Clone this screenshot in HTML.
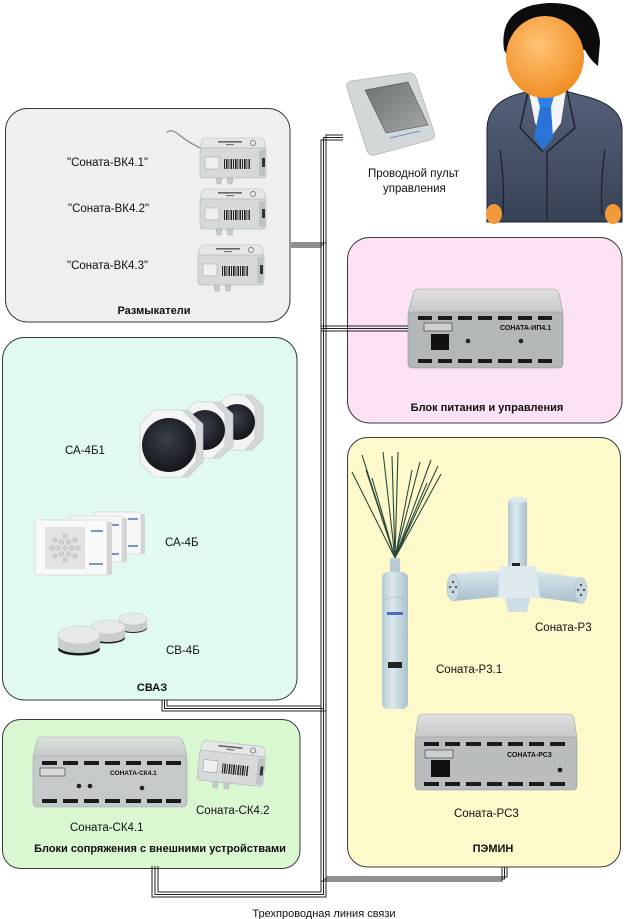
<!DOCTYPE html>
<html><head><meta charset="utf-8">
<style>
html,body{margin:0;padding:0;background:#fff;}
svg{display:block;}
text{font-family:"Liberation Sans",sans-serif;fill:#111;}
</style></head><body>
<svg width="624" height="919" viewBox="0 0 624 919" xmlns="http://www.w3.org/2000/svg">
<defs>
 <linearGradient id="topg" x1="0" y1="0" x2="0" y2="1"><stop offset="0" stop-color="#dfe1e1"/><stop offset="1" stop-color="#c6c9c9"/></linearGradient>
 <linearGradient id="suit" x1="0" y1="0" x2="0" y2="1"><stop offset="0" stop-color="#56627a"/><stop offset="1" stop-color="#384256"/></linearGradient>
 <radialGradient id="face" cx="0.42" cy="0.35" r="0.7"><stop offset="0" stop-color="#ffc476"/><stop offset="1" stop-color="#ef8a1f"/></radialGradient>
 <radialGradient id="spk" cx="0.45" cy="0.4" r="0.6"><stop offset="0" stop-color="#3a3f4a"/><stop offset="1" stop-color="#14161b"/></radialGradient>
 <linearGradient id="cyl" x1="0" y1="0" x2="1" y2="0"><stop offset="0" stop-color="#b3c9d3"/><stop offset="0.4" stop-color="#dbe9ef"/><stop offset="1" stop-color="#a9c0cb"/></linearGradient>
 <linearGradient id="cylh" x1="0" y1="0" x2="0" y2="1"><stop offset="0" stop-color="#dbe9ef"/><stop offset="1" stop-color="#a9c0cb"/></linearGradient>
 <linearGradient id="scr" x1="0" y1="0" x2="1" y2="1"><stop offset="0" stop-color="#6c7071"/><stop offset="1" stop-color="#a3a7a8"/></linearGradient>
 <g id="vk">
  <path d="M4,0 H60 Q63,0 64,3 L66,10 H0 L2,3 Q3,0 4,0Z" fill="#e6e8e8" stroke="#b5b9b9" stroke-width=".6"/>
  <rect x="0" y="10" width="66" height="30" rx="3" fill="#d6d9d9" stroke="#aeb2b2" stroke-width=".6"/>
  <rect x="59" y="12" width="6" height="26" fill="#bfc3c3"/>
  <circle cx="53" cy="5" r="2.6" fill="none" stroke="#666" stroke-width=".7"/>
  <rect x="18" y="3" width="24" height="1.6" fill="#666"/>
  <rect x="26" y="6" width="8" height="1.2" fill="#777"/>
  <rect x="5" y="19" width="14" height="12" fill="#eef0f0" stroke="#999" stroke-width=".5"/>
  <g fill="#222">
   <rect x="24" y="21" width="1" height="10"/><rect x="26" y="21" width="1.5" height="10"/><rect x="28.5" y="21" width="0.8" height="10"/>
   <rect x="30.5" y="21" width="1.5" height="10"/><rect x="33" y="21" width="1" height="10"/><rect x="35" y="21" width="1.6" height="10"/>
   <rect x="37.5" y="21" width="0.8" height="10"/><rect x="39.5" y="21" width="1.5" height="10"/><rect x="42" y="21" width="1" height="10"/>
   <rect x="44" y="21" width="1.6" height="10"/><rect x="46.5" y="21" width="0.8" height="10"/><rect x="48.5" y="21" width="1.4" height="10"/>
  </g>
  <rect x="62" y="20" width="3" height="9" fill="#333"/>
  <path d="M16,40 h6 l-1,6 h-4z M27,40 h6 l-1,6 h-4z" fill="#c8cbcb" stroke="#a5a9a9" stroke-width=".5"/>
 </g>
</defs>

<rect width="624" height="919" fill="#fff"/>

<!-- Panels -->
<rect x="5.5" y="108.5" width="284.5" height="213.5" rx="22" fill="#efefef" stroke="#3a3a3a"/>
<rect x="2.5" y="337.5" width="294.5" height="362.5" rx="22" fill="#e0f9f1" stroke="#3a3a3a"/>
<rect x="2.5" y="719.5" width="297.5" height="149" rx="18" fill="#d9f8d2" stroke="#3a3a3a"/>
<rect x="347.5" y="237.5" width="274.5" height="185.5" rx="22" fill="#fde1f5" stroke="#3a3a3a"/>
<rect x="347.5" y="437.5" width="273" height="429.5" rx="20" fill="#fdf9cb" stroke="#3a3a3a"/>

<!-- Wires -->
<g fill="none" stroke="#222" stroke-width="1">
 <path d="M343,135 H326 V897 H152 V866"/>
 <path d="M343,137.5 H323.5 V894.5 H155 V866"/>
 <path d="M343,140 H321 V892 H158 V866"/>
 <path d="M291,243 H326 M291,245 H323.5 M291,247 H321"/>
 <path d="M321,326 H408 M321,328.5 H408 M321,331 H408"/>
 <path d="M162,700 V711 H326 M164.5,700 V708.5 H323.5 M167,700 V706 H321"/>
 <path d="M326,877 H507 V867 M323.5,879 H504.5 V867 M321,881 H502 V867"/>
</g>

<!-- Person -->
<path d="M487,222 V128 Q488,104 515,95 L547,86 L580,95 Q621,104 622,128 V222 Z" fill="url(#suit)" stroke="#1e2330"/>
<ellipse cx="494" cy="214" rx="8" ry="10" fill="#f29a3a"/>
<ellipse cx="613" cy="214" rx="8" ry="10" fill="#f29a3a"/>
<path d="M529,92 L566,90 L561,123 L547,142 L535,123 Z" fill="#f3f4f6"/>
<path d="M537,96 H554 L551,107 H540 Z" fill="#2f80e6"/>
<path d="M540,107 H551 L553,138 L543,150 L534,138 Z" fill="#2a74d8"/>
<path d="M528,92 L520,128 L543,152 M567,90 L575,128 L547,152" fill="none" stroke="#1c2230" stroke-width="1.5"/>
<path d="M500,150 Q505,185 503,215 M605,150 Q600,185 602,215 M547,152 V222" fill="none" stroke="#1c2230" stroke-width="1.3"/>
<path d="M504,50 Q498,6 548,3 Q597,2 600,42 L598,66 Q590,60 585,50 L520,40 Q510,48 509,58 Z" fill="#0c0c0c"/>
<ellipse cx="545" cy="57" rx="39" ry="41" fill="url(#face)"/>

<!-- Pult -->
<path d="M347,88 Q345,83 351,81 L408,73 Q414,72 416,78 L434,132 Q436,139 430,140 L375,155 Q369,156 367,151 Z" fill="#d3d7d8" stroke="#b2b6b7" stroke-width=".8"/>
<path d="M365,90 L408,82 L428,125 L386,133 Z" fill="url(#scr)" stroke="#555" stroke-width=".6"/>
<path d="M390,138 L420,131" stroke="#6b8fc8" stroke-width="1" fill="none"/>
<text x="368" y="177" font-size="11.5">Проводной пульт</text>
<text x="383" y="192" font-size="11.5">управления</text>

<!-- Razmykateli -->
<path d="M167,133 Q170,128 178,134 Q190,144 205,150" fill="none" stroke="#888" stroke-width="1.2"/>
<use href="#vk" x="200" y="138"/>
<use href="#vk" x="200" y="189"/>
<use href="#vk" x="198" y="245"/>
<text x="67" y="166" font-size="11.5">"Соната-ВК4.1"</text>
<text x="68" y="212" font-size="11.5">"Соната-ВК4.2"</text>
<text x="67" y="269" font-size="11.5">"Соната-ВК4.3"</text>
<text x="154" y="314" font-size="11" font-weight="bold" text-anchor="middle">Размыкатели</text>

<!-- Power block IP4.1 -->
<path d="M414,291 Q416,289 420,289 H552 Q557,289 559,293 L563,313 H408 Z" fill="url(#topg)" stroke="#9a9e9e" stroke-width=".6"/>
<rect x="408" y="312" width="155" height="56" rx="4" fill="#b3b7b7" stroke="#8d9191" stroke-width=".6"/>
<g fill="#1a1a1a">
 <rect x="418" y="316" width="14" height="4"/><rect x="438" y="316" width="14" height="4"/><rect x="458" y="316" width="14" height="4"/><rect x="478" y="316" width="14" height="4"/><rect x="498" y="316" width="14" height="4"/><rect x="518" y="316" width="14" height="4"/><rect x="538" y="316" width="14" height="4"/>
 <rect x="418" y="359" width="14" height="4"/><rect x="438" y="359" width="14" height="4"/><rect x="458" y="359" width="14" height="4"/><rect x="478" y="359" width="14" height="4"/><rect x="498" y="359" width="14" height="4"/><rect x="518" y="359" width="14" height="4"/><rect x="538" y="359" width="14" height="4"/>
</g>
<rect x="424" y="323" width="28" height="8" fill="#cdd0d0" stroke="#333" stroke-width=".6"/>
<text x="500" y="330" font-size="7" font-weight="bold">СОНАТА-ИП4.1</text>
<rect x="431" y="334" width="18" height="16" fill="#111"/>
<circle cx="468" cy="341" r="2.3" fill="#222"/>
<circle cx="521" cy="341" r="2.3" fill="#222"/>
<text x="487" y="411" font-size="11" font-weight="bold" text-anchor="middle">Блок питания и управления</text>

<!-- SVAZ: CA-4B1 speakers -->
<g>
 <path d="M232,395 H252 L263,406 V439 L252,450 H232 L224,439 V406 Z" fill="#d5d8d8" stroke="#bbb" stroke-width=".6"/>
 <path d="M227,395 H245 L255,406 V439 L245,450 H227 L217,439 V406 Z" fill="#f3f3f3" stroke="#c5c5c5" stroke-width=".6"/>
 <circle cx="237" cy="422" r="18" fill="url(#spk)"/>
 <path d="M197,402 H220 L233,414 V446 L220,458 H197 L190,446 V414 Z" fill="#d5d8d8" stroke="#bbb" stroke-width=".6"/>
 <path d="M195,402 H213 L225,414 V446 L213,458 H195 L183,446 V414 Z" fill="#f3f3f3" stroke="#c5c5c5" stroke-width=".6"/>
 <circle cx="205" cy="430" r="20" fill="url(#spk)"/>
 <path d="M160,410 H188 L203,424 V462 L188,477 H160 L147,462 V424 Z" fill="#d5d8d8" stroke="#bbb" stroke-width=".6"/>
 <path d="M154,410 H182 L196,424 V462 L182,477 H154 L140,462 V424 Z" fill="#f5f5f5" stroke="#c5c5c5" stroke-width=".6"/>
 <circle cx="169" cy="445" r="27" fill="url(#spk)"/>
</g>
<text x="65" y="454" font-size="11.5">СА-4Б1</text>

<!-- CA-4B panels -->
<rect x="95" y="512" width="46" height="42" fill="#f7f7f7" stroke="#cfcfcf" stroke-width=".6"/>
<rect x="141" y="514" width="4" height="40" fill="#d4d4d4"/>
<rect x="128" y="518" width="10" height="2" fill="#7895cc"/><rect x="128" y="545" width="10" height="2" fill="#7895cc"/>
<rect x="70" y="516" width="52" height="46" fill="#f7f7f7" stroke="#cfcfcf" stroke-width=".6"/>
<rect x="122" y="518" width="5" height="44" fill="#d4d4d4"/>
<rect x="108" y="524" width="11" height="2" fill="#7895cc"/><rect x="108" y="553" width="11" height="2" fill="#7895cc"/>
<rect x="35" y="520" width="72" height="55" fill="#f9f9f9" stroke="#cfcfcf" stroke-width=".6"/>
<rect x="107" y="522" width="5" height="53" fill="#d4d4d4"/>
<rect x="45" y="527" width="40" height="42" fill="#e3e3e3"/>
<g fill="#d0d0d0" stroke="#b5b5b5" stroke-width=".5">
 <circle cx="65" cy="548" r="2.4"/>
 <circle cx="72" cy="548" r="2.4"/><circle cx="58" cy="548" r="2.4"/><circle cx="68.5" cy="542" r="2.4"/><circle cx="61.5" cy="542" r="2.4"/><circle cx="68.5" cy="554" r="2.4"/><circle cx="61.5" cy="554" r="2.4"/>
 <circle cx="78" cy="548" r="2.4"/><circle cx="52" cy="548" r="2.4"/><circle cx="65" cy="536" r="2.4"/><circle cx="65" cy="560" r="2.4"/><circle cx="75" cy="540" r="2.4"/><circle cx="55" cy="540" r="2.4"/><circle cx="75" cy="556" r="2.4"/><circle cx="55" cy="556" r="2.4"/>
</g>
<rect x="91" y="530" width="12" height="2" fill="#7895cc"/><rect x="89" y="563" width="14" height="2" fill="#7895cc"/>
<text x="165" y="546" font-size="11.5">СА-4Б</text>

<!-- CB-4B pucks -->
<ellipse cx="133" cy="628" rx="14" ry="5" fill="#222"/>
<path d="M119,619 V627 A14,5 0 0 0 147,627 V619 Z" fill="#c9cdcd"/>
<ellipse cx="133" cy="619" rx="14" ry="6" fill="#e8eaea" stroke="#c2c6c6" stroke-width=".5"/>
<ellipse cx="108" cy="638" rx="17" ry="5.5" fill="#222"/>
<path d="M91,627 V636 A17,6 0 0 0 125,636 V627 Z" fill="#c9cdcd"/>
<ellipse cx="108" cy="627" rx="17" ry="7" fill="#e8eaea" stroke="#c2c6c6" stroke-width=".5"/>
<ellipse cx="79" cy="649" rx="21" ry="6.5" fill="#1d1d1d"/>
<path d="M58,635 V646 A21,7 0 0 0 100,646 V635 Z" fill="#c9cdcd"/>
<ellipse cx="79" cy="635" rx="21" ry="9" fill="#e8eaea" stroke="#c2c6c6" stroke-width=".5"/>
<text x="166" y="654" font-size="11.5">СВ-4Б</text>
<text x="152" y="691" font-size="11" font-weight="bold" text-anchor="middle">СВАЗ</text>

<!-- Green panel devices -->
<path d="M42,737 H176 Q181,737 183,741 L187,757 H33 L37,741 Q38,737 42,737Z" fill="url(#topg)" stroke="#a5a9a9" stroke-width=".6"/>
<rect x="33" y="756" width="154" height="51" rx="4" fill="#c6c9c9" stroke="#9fa3a3" stroke-width=".6"/>
<g fill="#1a1a1a">
 <rect x="42" y="761" width="15" height="4"/><rect x="63" y="761" width="15" height="4"/><rect x="84" y="761" width="15" height="4"/><rect x="105" y="761" width="15" height="4"/><rect x="126" y="761" width="15" height="4"/><rect x="147" y="761" width="15" height="4"/><rect x="166" y="761" width="15" height="4"/>
 <rect x="42" y="799" width="15" height="4"/><rect x="63" y="799" width="15" height="4"/><rect x="84" y="799" width="15" height="4"/><rect x="105" y="799" width="15" height="4"/><rect x="126" y="799" width="15" height="4"/><rect x="147" y="799" width="15" height="4"/><rect x="166" y="799" width="15" height="4"/>
</g>
<rect x="40" y="768" width="25" height="8" fill="#d8dada" stroke="#333" stroke-width=".6"/>
<text x="110" y="775" font-size="6.5" font-weight="bold">СОНАТА-СК4.1</text>
<circle cx="79" cy="786" r="2.3" fill="#222"/><circle cx="90" cy="786" r="2.3" fill="#222"/><circle cx="142" cy="788" r="2.3" fill="#222"/>
<use href="#vk" transform="translate(201,740) rotate(6)"/>
<text x="70" y="831" font-size="11.5">Соната-СК4.1</text>
<text x="196" y="814" font-size="11.5">Соната-СК4.2</text>
<text x="160" y="852" font-size="11" font-weight="bold" text-anchor="middle">Блоки сопряжения с внешними устройствами</text>

<!-- PEMIN: antenna -->
<g stroke="#2c4a3a" stroke-width="1.1" fill="none">
 <path d="M395,558 L352,472 M395,558 L362,455 M395,558 L372,478 M395,558 L383,452 M395,558 L392,456 M395,558 L398,452 M395,558 L412,470 M395,558 L420,462 M395,558 L431,460 M395,558 L438,466 M395,558 L441,474 M395,558 L427,483 M395,558 L366,470"/>
</g>
<rect x="390" y="558" width="10" height="16" fill="#b7ccd6"/>
<rect x="382" y="572" width="26" height="137" rx="6" fill="url(#cyl)"/>
<path d="M386,600 Q395,594 404,600" stroke="#9ab" stroke-width=".6" fill="none"/>
<rect x="387" y="612" width="16" height="3" fill="#4a6fbf"/>
<rect x="388" y="662" width="14" height="6" fill="#222"/>
<!-- Sonata-R3 -->
<rect x="508" y="500" width="19" height="75" rx="3" fill="url(#cyl)"/>
<ellipse cx="517.5" cy="500" rx="9.5" ry="3" fill="#dbe9ef"/>
<rect x="512" y="563" width="8" height="5" fill="#222"/>
<path d="M452,574 L506,570 L508,596 L454,601 Z" fill="url(#cylh)"/>
<ellipse cx="453" cy="587.5" rx="6" ry="13.5" fill="#c7d8e0" stroke="#9bb" stroke-width=".5"/>
<path d="M528,570 L582,578 L580,603 L528,596 Z" fill="url(#cylh)"/>
<ellipse cx="581" cy="590.5" rx="6" ry="13" fill="#c7d8e0" stroke="#9bb" stroke-width=".5"/>
<path d="M500,566 H536 L540,598 H498 Z" fill="#dfeaef"/>
<path d="M505,598 H530 L527,612 H508 Z" fill="#cfdde4"/>
<g fill="#555"><circle cx="453" cy="582" r="1.2"/><circle cx="453" cy="592" r="1.2"/><circle cx="450" cy="587" r="1.2"/><circle cx="456" cy="587" r="1.2"/><circle cx="581" cy="585" r="1.2"/><circle cx="581" cy="595" r="1.2"/><circle cx="578" cy="590" r="1.2"/><circle cx="584" cy="590" r="1.2"/></g>
<text x="535" y="631" font-size="11.5">Соната-Р3</text>
<text x="436" y="673" font-size="11.5">Соната-Р3.1</text>

<!-- RC3 -->
<path d="M422,714 H568 Q572,714 574,718 L577,738 H415 L418,718 Q419,714 422,714Z" fill="url(#topg)" stroke="#a0a4a4" stroke-width=".6"/>
<rect x="415" y="737" width="162" height="53" rx="4" fill="#b9bdbd" stroke="#909494" stroke-width=".6"/>
<g fill="#1a1a1a">
 <rect x="424" y="742" width="15" height="4"/><rect x="445" y="742" width="15" height="4"/><rect x="466" y="742" width="15" height="4"/><rect x="487" y="742" width="15" height="4"/><rect x="508" y="742" width="15" height="4"/><rect x="529" y="742" width="15" height="4"/><rect x="550" y="742" width="15" height="4"/>
 <rect x="424" y="782" width="15" height="4"/><rect x="445" y="782" width="15" height="4"/><rect x="466" y="782" width="15" height="4"/><rect x="487" y="782" width="15" height="4"/><rect x="508" y="782" width="15" height="4"/><rect x="529" y="782" width="15" height="4"/><rect x="550" y="782" width="15" height="4"/>
</g>
<rect x="425" y="750" width="28" height="8" fill="#cdd0d0" stroke="#333" stroke-width=".6"/>
<text x="507" y="757" font-size="7" font-weight="bold">СОНАТА-РС3</text>
<rect x="431" y="760" width="19" height="17" fill="#111"/>
<circle cx="560" cy="770" r="2.4" fill="#222"/>
<text x="454" y="817" font-size="11.5">Соната-РС3</text>
<text x="493" y="852" font-size="11" font-weight="bold" text-anchor="middle">ПЭМИН</text>

<text x="324" y="917" font-size="11" text-anchor="middle">Трехпроводная линия связи</text>
</svg>
</body></html>
